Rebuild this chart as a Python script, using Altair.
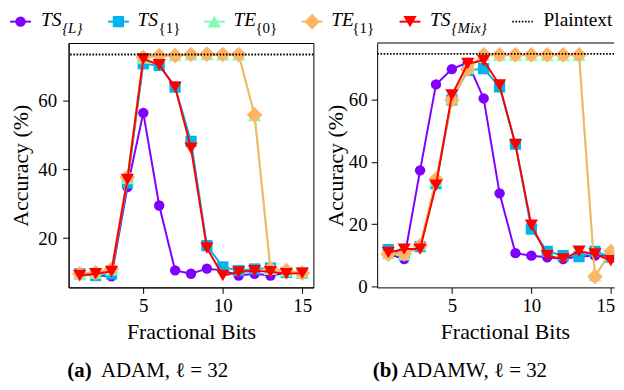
import altair as alt
import pandas as pd

FONT = "'Liberation Serif', 'Times New Roman', Times, 'DejaVu Serif', serif"

# ---------------- data ----------------
bits = list(range(1, 16))

# (a) ADAM, l = 32
adam_ts_l = [9.7, 9.1, 8.9, 34.9, 56.5, 29.5, 10.6, 9.6, 11.1, 10.6, 9.1, 9.6, 9.1, 9.8, 9.8]
adam_ts_1 = [9.6, 9.1, 9.6, 36.1, 70.8, 70.3, 64.0, 48.2, 17.8, 11.6, 10.5, 11.0, 11.3, 10.0, 9.8]
adam_te_0 = [9.7, 9.8, 10.8, 37.4, 72.5, 73.0, 73.2, 73.4, 73.5, 73.4, 73.4, 55.7, 10.9, 10.4, 9.9]
adam_te_1 = [9.6, 9.9, 11.0, 37.7, 72.7, 73.2, 73.2, 73.5, 73.6, 73.5, 73.5, 55.9, 11.0, 10.5, 9.8]
adam_ts_mix = [9.1, 9.6, 10.3, 37.1, 72.2, 70.5, 64.0, 46.2, 17.1, 9.1, 10.1, 10.5, 10.2, 9.6, 9.8]
adam_plain = 73.5

# (b) ADAMW, l = 32
adamw_ts_l = [10.4, 8.8, 37.3, 64.9, 69.8, 71.9, 60.4, 29.9, 10.7, 9.9, 9.4, 8.8, 9.6, 9.9, 9.9]
adamw_ts_1 = [11.8, 10.4, 12.8, 33.0, 59.9, 69.4, 70.0, 64.1, 45.7, 18.4, 11.3, 9.9, 9.6, 11.3, 9.4]
adamw_te_0 = [10.6, 10.2, 13.4, 34.0, 60.3, 70.1, 74.3, 74.3, 74.3, 74.3, 74.3, 74.3, 74.3, 3.5, 11.0]
adamw_te_1 = [10.4, 10.5, 13.1, 34.4, 59.9, 69.8, 74.4, 74.4, 74.4, 74.4, 74.4, 74.4, 74.4, 3.2, 11.2]
adamw_ts_mix = [10.9, 12.0, 12.0, 32.5, 61.5, 71.6, 72.6, 64.7, 45.5, 19.7, 9.9, 8.8, 11.3, 10.4, 8.3]
adamw_plain = 74.7

series_main = ["TS", "TS", "TE", "TE", "TS"]
series_sub = ["{L}", "{1}", "{0}", "{1}", "{Mix}"]
plain_label = "Plaintext"
x_ticks = [5, 10, 15]
y_ticks_a = [20, 40, 60]
y_ticks_b = [0, 20, 40, 60]

# ---------------- styles / layout ----------------
colors = ["#8000FF", "#00B4EC", "#80FFB4", "#FFB462", "#FF0000"]
shapes = ["circle", "square", "triangle-up", "diamond", "triangle-down"]
sizes = [110, 128, 180, 250, 177]

PX_PER_BIT = 16.0
PH = 246
ORIGIN_X, ORIGIN_Y = 67.0, 41.0   # page position of left plot area
RX = 377.0                        # page x of right plot area
RIGHT_END = 615.5                 # page x where the right panel is cut
X_LO = 0.3
X_HI_A = 15.7
PW_A = (X_HI_A - X_LO) * PX_PER_BIT
PW_B = RIGHT_END - RX
X_HI_B = X_LO + PW_B / PX_PER_BIT

one = pd.DataFrame({"d": [0]})


def lx(x):
    # legend x (page) squeezed slightly to fit the page
    return 8 + (x - 6.7) * 0.985


def txt(x, y, s, size=19, style="normal", weight="normal", align="left"):
    return alt.Chart(one).mark_text(
        font=FONT, fontSize=size, fontStyle=style, fontWeight=weight,
        align=align, baseline="middle", color="black"
    ).encode(x=alt.value(x), y=alt.value(y), text=alt.value(s))


def legend_layers():
    layers = []
    mk = [17.5, 117.5, 215.5, 315.5, 415.5]
    tx = [38.3, 137.0, 235.0, 335.0, 436.0]
    sx = [60.0, 158.5, 257.5, 356.5, 458.0]
    y_mark = 19.5 - ORIGIN_Y
    y_main = 17.75 - ORIGIN_Y
    y_sub = 26.0 - ORIGIN_Y
    for i in range(5):
        m = lx(mk[i]) - ORIGIN_X
        half = 10.5
        layers.append(alt.Chart(one).mark_rule(color=colors[i], strokeWidth=2).encode(
            x=alt.value(m - half), x2=alt.value(m + half), y=alt.value(y_mark)))
        layers.append(alt.Chart(one).mark_point(
            shape=shapes[i], size=sizes[i], filled=True, color=colors[i], opacity=1, strokeWidth=0
        ).encode(x=alt.value(m), y=alt.value(y_mark)))
        layers.append(txt(lx(tx[i]) - ORIGIN_X, y_main, series_main[i], 19.5, "italic"))
        sub_style = "normal" if series_sub[i][1].isdigit() else "italic"
        layers.append(txt(lx(sx[i]) - ORIGIN_X, y_sub, series_sub[i], 15, sub_style))
    layers.append(alt.Chart(one).mark_rule(color="black", strokeWidth=1.8, strokeDash=[1.6, 1.6]).encode(
        x=alt.value(lx(520) - ORIGIN_X), x2=alt.value(lx(541) - ORIGIN_X), y=alt.value(y_mark)))
    layers.append(txt(lx(552) - ORIGIN_X, y_main, plain_label, 19.5))
    return layers


def make_panel(values_list, plain, xhi, width, ydom, yticks, lab_pad, title_pad, extra,
               clip=False, flush=False, x_title_x=None):
    xs = alt.Scale(domain=[X_LO, xhi], nice=False, zero=False)
    ys = alt.Scale(domain=ydom, nice=False, zero=False)
    xkw = dict(labelFlush=8, labelFlushOffset=4) if flush else {}
    if x_title_x is not None:
        xkw["titleX"] = x_title_x
    xaxis = alt.Axis(values=x_ticks, format="d", title="Fractional Bits",
                     labelPadding=3, titlePadding=6, **xkw)
    yaxis = alt.Axis(values=yticks, format="d", title="Accuracy (%)",
                     labelPadding=lab_pad, titlePadding=title_pad)
    layers = []
    for vals, col, shp, sz in zip(values_list, colors, shapes, sizes):
        df = pd.DataFrame({"bits": bits, "acc": vals})
        base = alt.Chart(df).encode(
            x=alt.X("bits:Q", scale=xs, axis=xaxis),
            y=alt.Y("acc:Q", scale=ys, axis=yaxis),
        )
        layers.append(base.mark_line(color=col, strokeWidth=2, clip=clip))
        layers.append(base.mark_point(shape=shp, size=sz, filled=True, color=col,
                                      opacity=1, strokeWidth=0, clip=clip))
    rule = alt.Chart(pd.DataFrame({"acc": [plain]})).mark_rule(
        color="black", strokeDash=[1.6, 1.6], strokeWidth=1.8
    ).encode(y=alt.Y("acc:Q", scale=ys, axis=yaxis))
    layers.append(rule)
    layers += extra
    return alt.layer(*layers).properties(width=width, height=PH)


cap_y = 371.3 - ORIGIN_Y
CAP = 21
left_extra = legend_layers() + [
    txt(65.7 - ORIGIN_X, cap_y, "(a)", CAP, weight="bold"),
    txt(99.6 - ORIGIN_X, cap_y, "ADAM, ℓ = 32", CAP),
]
right_extra = [
    # top frame line of the right panel (its right side lies beyond the page)
    alt.Chart(one).mark_rule(color="black", strokeWidth=1).encode(
        x=alt.value(0), x2=alt.value(PW_B), y=alt.value(0)),
    txt(372.5 - RX, cap_y, "(b)", CAP, weight="bold"),
    txt(402.0 - RX, cap_y, "ADAMW, ℓ = 32", CAP),
]

left = make_panel([adam_ts_l, adam_ts_1, adam_te_0, adam_te_1, adam_ts_mix], adam_plain,
                  X_HI_A, PW_A, [5.64, 76.85], y_ticks_a, 6, 5.6, left_extra)
right = make_panel([adamw_ts_l, adamw_ts_1, adamw_te_0, adamw_te_1, adamw_ts_mix], adamw_plain,
                   X_HI_B, PW_B, [-0.3, 78.2], y_ticks_b, 4, 1, right_extra,
                   clip=True, flush=True, x_title_x=505.5 - RX).properties(
    view=alt.ViewBackground(stroke="transparent"))

chart = alt.hconcat(left, right, spacing=RX - (ORIGIN_X + PW_A), bounds="flush").properties(
    padding=0
).configure_axis(
    labelFont=FONT, labelFontSize=19, labelColor="black",
    titleFont=FONT, titleFontSize=22, titleFontWeight="normal", titleColor="black",
    tickColor="black", tickSize=6, tickWidth=1, domainColor="black", domainWidth=1,
    grid=False,
).configure_view(stroke="black", strokeWidth=1)

chart.save("out.html", embed_options={"renderer": "svg", "actions": False})
